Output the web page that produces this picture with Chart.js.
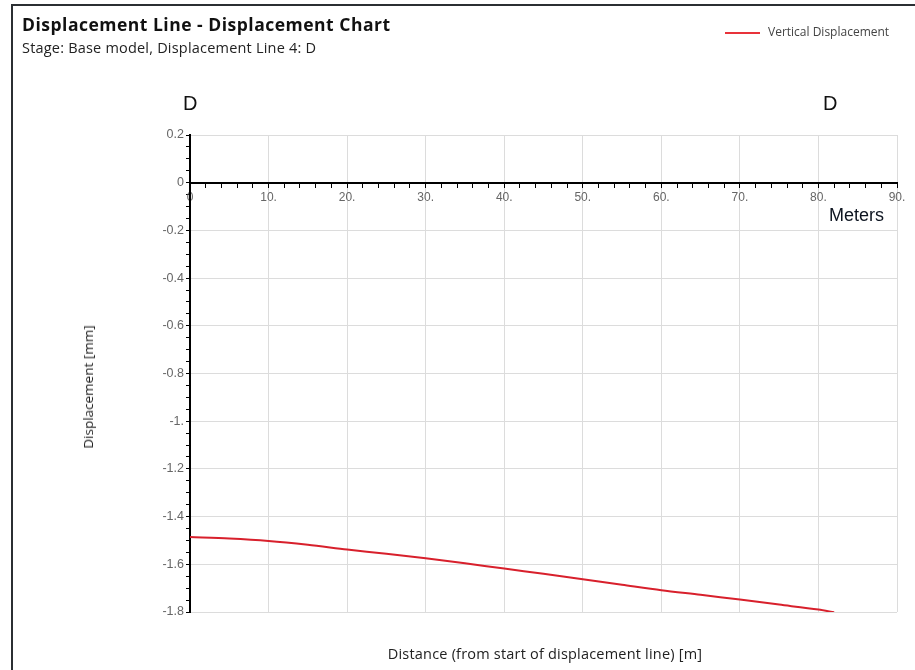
<!DOCTYPE html>
<html>
<head>
<meta charset="utf-8">
<script src="https://cdn.jsdelivr.net/npm/chart.js@4.4.1/dist/chart.umd.min.js"></script>
<style>
  body { margin: 0; background: #fff; }
  #wrap { position: relative; width: 915px; height: 670px; overflow: hidden; }
  #frame { position: absolute; left: 11px; top: 4px; width: 920px; height: 700px;
           border-top: 2px solid #2b2f33; border-left: 2px solid #2b2f33; }
  canvas { position: absolute; left: 0; top: 0; }
  .txt { position: absolute; white-space: nowrap; }
  #title { left: 22px; top: 12px; font: bold 17.5px "Open Sans", sans-serif; letter-spacing: 0.5px; color: #111; }
  #subtitle { left: 22px; top: 38px; font: 14.5px "Open Sans", sans-serif; letter-spacing: 0.2px; color: #222; }
  #legend { left: 725px; top: 23px; font: 12px "Open Sans", sans-serif; color: #444; }
  #legend span { display: inline-block; width: 35px; height: 2px; background: #e8333a;
                 vertical-align: middle; margin-right: 8px; }
  .mark { font: 20px "Liberation Sans", sans-serif; color: #111; }
  #meters { left: 829px; top: 205px; font: 18px "Liberation Sans", sans-serif; color: #0d1420; }
  #xtitle { left: 545px; top: 644px; font: 14.5px "Open Sans", sans-serif; letter-spacing: 0.2px; color: #222;
            transform: translateX(-50%); }
  #ytitle { left: 88px; top: 387px; font: 13.5px "Open Sans", sans-serif; color: #222;
            transform: translate(-50%, -50%) rotate(-90deg); }
</style>
</head>
<body>
<div id="wrap">
  <div id="frame"></div>
  <canvas id="lineChart" width="915" height="670"></canvas>
  <div class="txt" id="title">Displacement Line - Displacement Chart</div>
  <div class="txt" id="subtitle">Stage: Base model, Displacement Line 4: D</div>
  <div class="txt" id="legend"><span></span>Vertical Displacement</div>
  <div class="txt mark" id="dStart" style="left:183px;top:92px">D</div>
  <div class="txt mark" id="dEnd" style="left:823px;top:92px">D</div>
  <div class="txt" id="meters">Meters</div>
  <div class="txt" id="xtitle">Distance (from start of displacement line) [m]</div>
  <div class="txt" id="ytitle">Displacement [mm]</div>
</div>
<script>
// Distance along the displacement line [m]
var distances = [0, 5, 10, 15, 20, 25, 30, 35, 40, 45, 50, 55, 60, 65, 70, 75, 80, 82];
// Vertical displacement [mm]
var displacements = [-1.486, -1.492, -1.502, -1.518, -1.538, -1.556, -1.575, -1.596, -1.618, -1.640,
                     -1.663, -1.686, -1.709, -1.728, -1.748, -1.769, -1.790, -1.801];

var xTickValues = [0, 10, 20, 30, 40, 50, 60, 70, 80, 90];
var xTickLabels = ["0", "10.", "20.", "30.", "40.", "50.", "60.", "70.", "80.", "90."];
var yTickValues = [0.2, 0, -0.2, -0.4, -0.6, -0.8, -1, -1.2, -1.4, -1.6, -1.8];
var yTickLabels = ["0.2", "0", "-0.2", "-0.4", "-0.6", "-0.8", "-1.", "-1.2", "-1.4", "-1.6", "-1.8"];

function findMajor(list, v) {
  for (var i = 0; i < list.length; i++) {
    if (Math.abs(list[i] - v) < 1e-6) return i;
  }
  return -1;
}

window.onload = function () {
  var ctx = document.getElementById("lineChart").getContext("2d");
  var points = distances.map(function (d, i) { return { x: d, y: displacements[i] }; });

  new Chart(ctx, {
    type: "line",
    data: {
      datasets: [
        {
          label: "Vertical Displacement",
          data: points,
          borderColor: "#d8202c",
          borderWidth: 2,
          pointRadius: 0,
          fill: false,
          tension: 0.3,
        },
      ],
    },
    options: {
      responsive: false,
      animation: false,
      layout: { padding: { left: 0, top: 135, right: 18, bottom: 58 } },
      plugins: { legend: { display: false }, tooltip: { enabled: false } },
      scales: {
        x: {
          type: "linear",
          position: { y: 0 },
          min: 0,
          max: 90,
          border: { color: "#000", width: 2 },
          grid: {
            color: function (c) { return findMajor(xTickValues, c.tick.value) >= 0 ? "#dcdcdc" : "rgba(0,0,0,0)"; },
            tickColor: "#000",
            tickLength: 4,
          },
          ticks: {
            stepSize: 2,
            autoSkip: false,
            maxRotation: 0,
            padding: 4,
            color: "#666",
            font: { family: "Liberation Sans", size: 12 },
            callback: function (v) {
              var i = findMajor(xTickValues, v);
              return i >= 0 ? xTickLabels[i] : "";
            },
          },
        },
        y: {
          min: -1.8,
          max: 0.2,
          afterFit: function (s) { s.width = 190; },
          border: { color: "#000", width: 2 },
          grid: {
            color: function (c) { return findMajor(yTickValues, c.tick.value) >= 0 ? "#dcdcdc" : "rgba(0,0,0,0)"; },
            tickColor: "#000",
            tickLength: 4,
          },
          ticks: {
            stepSize: 0.05,
            autoSkip: false,
            padding: 2,
            color: "#666",
            font: { family: "Liberation Sans", size: 12.5 },
            callback: function (v) {
              var i = findMajor(yTickValues, v);
              return i >= 0 ? yTickLabels[i] : "";
            },
          },
        },
      },
    },
  });
};
</script>
</body>
</html>
